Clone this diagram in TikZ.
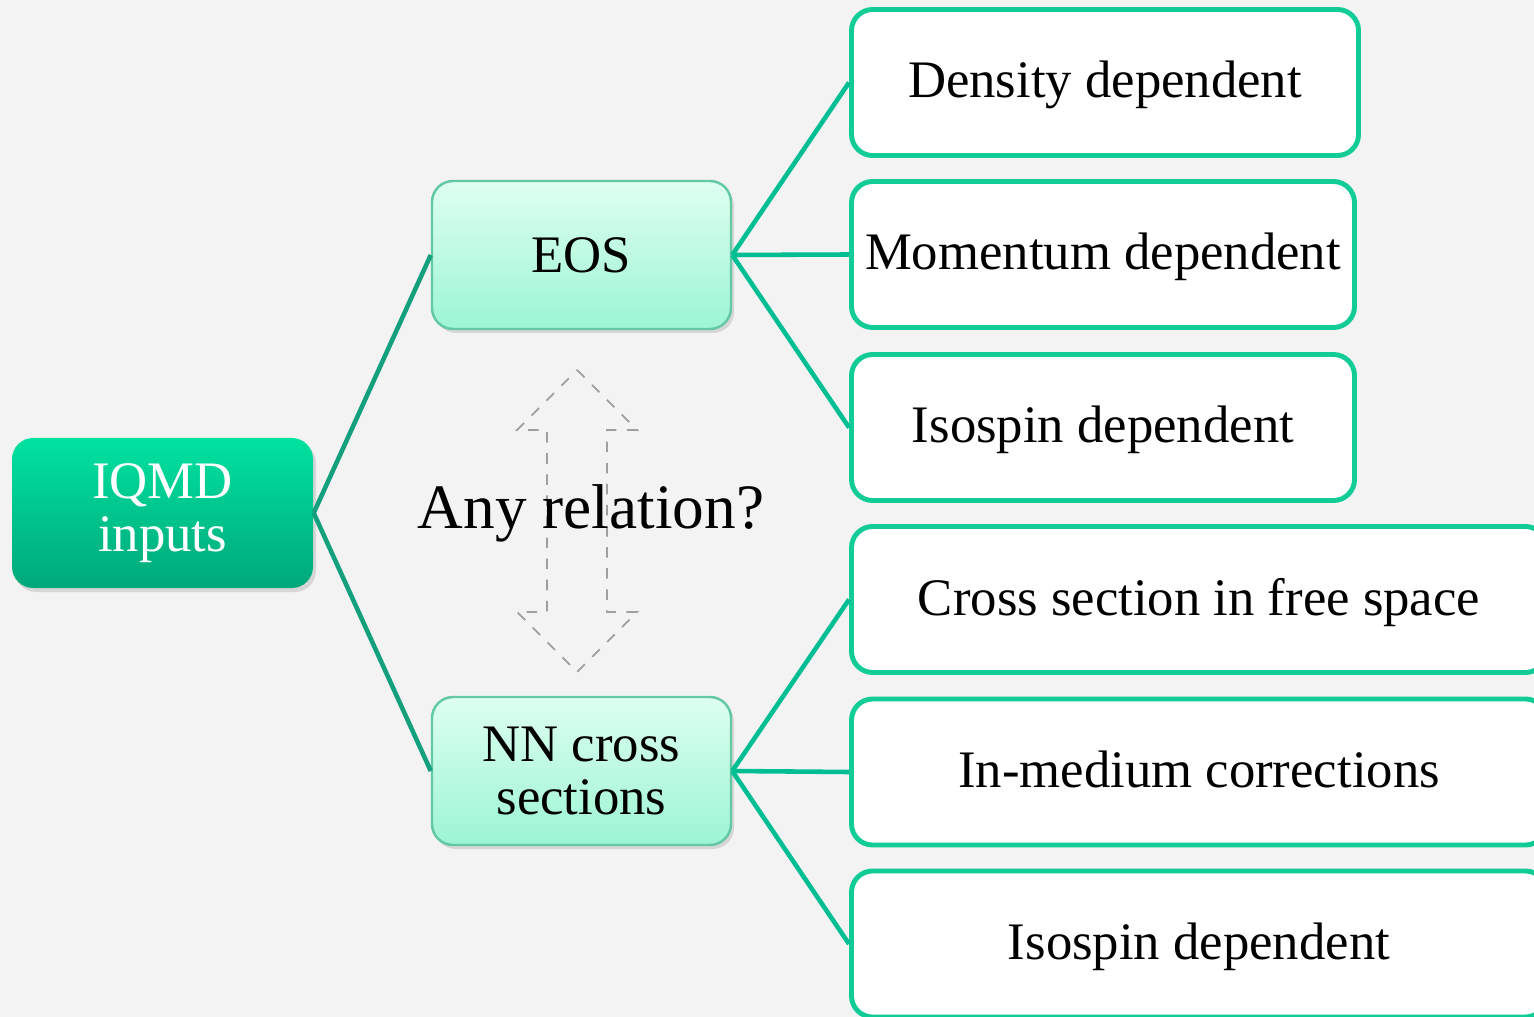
\documentclass[tikz,border=0pt]{standalone}
\usepackage{fontspec}
\setmainfont{Liberation Serif}
\usepackage{tikz}
\usetikzlibrary{shadows}
\definecolor{bgpaper}{RGB}{243,243,243}
\definecolor{rootTop}{RGB}{0,226,160}
\definecolor{rootBot}{RGB}{0,168,122}
\definecolor{midTop}{RGB}{222,255,240}
\definecolor{midBot}{RGB}{156,245,212}
\definecolor{midLine}{RGB}{100,200,165}
\definecolor{leafLine}{RGB}{18,204,152}
\definecolor{linkDark}{RGB}{20,160,125}
\definecolor{linkLight}{RGB}{0,190,148}

\begin{document}
\begin{tikzpicture}[
  font=\fontsize{15}{15}\selectfont,
  root/.style={rounded corners=6pt, align=center, text=white, minimum width=3.01cm, minimum height=1.50cm, inner sep=0pt, top color=rootTop, bottom color=rootBot, drop shadow={opacity=0.25, shadow xshift=0.03cm, shadow yshift=-0.04cm}},
  topic/.style={draw=midLine, line width=0.7pt, rounded corners=6pt, align=center, minimum width=2.99cm, minimum height=1.48cm, inner sep=0pt, top color=midTop, bottom color=midBot, drop shadow={opacity=0.25, shadow xshift=0.03cm, shadow yshift=-0.04cm}},
  leaf/.style={draw=leafLine, line width=1.4pt, fill=white, rounded corners=6pt, align=center, minimum height=1.46cm, inner sep=0pt, text depth=0.06cm},
  link/.style={linkDark, line width=1.3pt},
  sublink/.style={linkLight, line width=1.3pt},
  relarrow/.style={draw=gray!75, dashed, line width=0.5pt}
]
\clip (0,0) rectangle (15.34,-10.17);
\fill[bgpaper] (0,0) rectangle (15.34,-10.17);
\node[root] (iqmd) at (1.625,-5.13) {IQMD\\inputs};
\node[topic] (eos) at (5.815,-2.55) {EOS};
\node[topic] (nn) at (5.815,-7.71) {NN cross\\sections};
\node[leaf, minimum width=5.07cm] (dens) at (11.05,-0.825) {Density dependent};
\node[leaf, minimum width=5.03cm] (mom) at (11.03,-2.545) {Momentum dependent};
\node[leaf, minimum width=5.03cm] (isoa) at (11.03,-4.275) {Isospin dependent};
\node[leaf, minimum width=6.95cm] (free) at (11.99,-5.995) {Cross section in free space};
\node[leaf, minimum width=6.95cm] (medium) at (11.99,-7.72) {In-medium corrections};
\node[leaf, minimum width=6.95cm] (isob) at (11.99,-9.44) {Isospin dependent};
\foreach \t in {eos,nn}{\draw[link] (iqmd.east) -- (\t.west);}
\foreach \l in {dens,mom,isoa}{\draw[sublink] (eos.east) -- (\l.west);}
\foreach \l in {free,medium,isob}{\draw[sublink] (nn.east) -- (\l.west);}
\draw[relarrow] (5.77,-3.70) -- (6.37,-4.30) -- (6.07,-4.30) -- (6.07,-6.12) -- (6.37,-6.12) -- (5.77,-6.72) -- (5.17,-6.12) -- (5.47,-6.12) -- (5.47,-4.30) -- (5.17,-4.30) -- cycle;
\node[font=\fontsize{18}{18}\selectfont] (rel) at (5.91,-5.13) {Any relation?};
\end{tikzpicture}
\end{document}
